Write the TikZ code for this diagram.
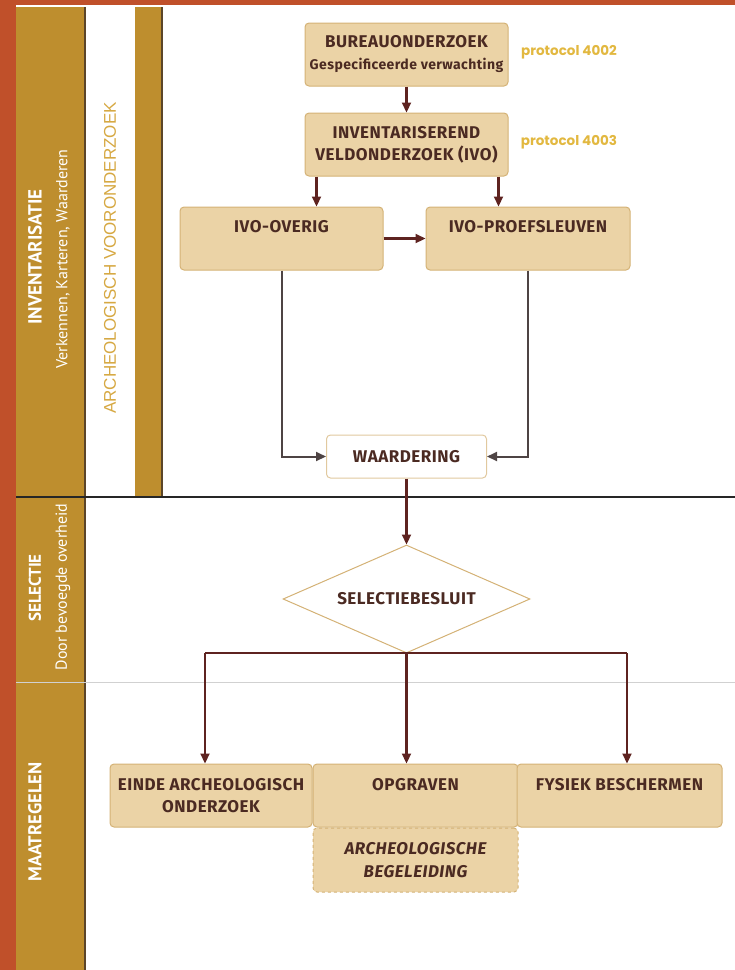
\documentclass[tikz,border=0pt]{standalone}
\usepackage{fontspec}
\setmainfont{PT Sans}
\newfontfamily\arialfont{Liberation Sans}
\newfontfamily\boxfont[LetterSpace=3]{Fira Sans}
\newfontfamily\protofont{Poppins}
\usetikzlibrary{shapes.geometric,arrows.meta,calc}
\definecolor{rust}{HTML}{C0502A}
\definecolor{gold}{HTML}{BE8E2E}
\definecolor{goldedge}{HTML}{5B4528}
\definecolor{boxfill}{HTML}{EBD3A6}
\definecolor{boxline}{HTML}{D4B276}
\definecolor{arr}{HTML}{5E2320}
\definecolor{greyline}{HTML}{4E4444}
\definecolor{txt}{HTML}{4B2A22}
\definecolor{proto}{HTML}{E2B840}
\definecolor{lightgold}{HTML}{D6A842}
\begin{document}
\begin{tikzpicture}[x=1pt,y=-1pt,
  box/.style={draw=boxline, fill=boxfill, rounded corners=4pt, line width=1pt,
    font=\boxfont\bfseries\fontsize{17}{22}\selectfont, text=txt, align=center, inner sep=0pt,
    minimum height=63pt},
  wbox/.style={box, fill=white, draw=boxline!70},
  toptext/.style={text height=11.7pt, text depth=23pt},
  arrow/.style={draw=arr, line width=2.2pt, -{Triangle[length=10pt,width=9pt]}},
  garrow/.style={draw=greyline, line width=2pt, -{Triangle[length=10pt,width=9pt]}},
  plain/.style={draw=arr, line width=2.2pt},
  side/.style={rotate=90, text=white, inner sep=0pt},
  proto/.style={text=proto, font=\protofont\bfseries\fontsize{13.5}{16}\selectfont, inner sep=0pt}
]
\useasboundingbox (0,0) rectangle (735,970);
% background bands
\fill[rust] (0,0) rectangle (735,5);
\fill[rust] (0,0) rectangle (16,970);
\fill[gold] (16,7) rectangle (85,970);
\draw[goldedge, line width=1.5pt] (85,7) -- (85,970);
\fill[gold] (135,7) rectangle (162,497);
\draw[goldedge, line width=1.2pt] (162,7) -- (162,497);
\draw[black!85, line width=1.2pt] (16,497) -- (735,497);
\draw[black!18, line width=1pt] (16,682) -- (735,682);

% side labels
\node[side, font=\bfseries\fontsize{19}{21}\selectfont] (inv-lbl) at (35,257) {INVENTARISATIE};
\node[side, font=\fontsize{16}{18}\selectfont] (inv-sub) at (63,259) {Verkennen, Karteren, Waarderen};
\node[side, text=lightgold, font=\arialfont\fontsize{17}{19}\selectfont] (avo) at (110,258) {ARCHEOLOGISCH VOORONDERZOEK};
\node[side, font=\bfseries\fontsize{17}{19}\selectfont] (sel-lbl) at (35,588) {SELECTIE};
\node[side, font=\fontsize{16}{18}\selectfont] (sel-sub) at (63,587) {Door bevoegde overheid};
\node[side, font=\bfseries\fontsize{18.5}{20}\selectfont] (maat-lbl) at (35,822) {MAATREGELEN};

% boxes
\node[box, minimum width=203pt] (bur) at (406.5,54.5) {BUREAUONDERZOEK\\{\fontsize{14}{18}\selectfont Gespecificeerde verwachting}};
\node[proto] (p4002) at (569,52) {protocol 4002};
\node[box, minimum width=203pt] (inv) at (406.5,144.5) {INVENTARISEREND\\VELDONDERZOEK (IVO)};
\node[proto] (p4003) at (569,142) {protocol 4003};
\node[box, toptext, minimum width=203pt] (ovr) at (281.5,238.5) {IVO-OVERIG};
\node[box, toptext, minimum width=204pt] (proef) at (528,238.5) {IVO-PROEFSLEUVEN};
\node[wbox, minimum width=160pt, minimum height=43pt] (waard) at (406.5,456.5) {WAARDERING};
\node[diamond, shape aspect=2.287, draw=boxline, fill=white, line width=1pt, minimum width=247pt, minimum height=108pt,
  inner sep=0pt, font=\boxfont\bfseries\fontsize{17}{19}\selectfont, text=txt] (dia) at (406.5,599) {SELECTIEBESLUIT};
\node[box, minimum width=202pt] (einde) at (211,795.5) {EINDE ARCHEOLOGISCH\\ONDERZOEK};
\node[box, toptext, text depth=21pt, minimum width=205pt] (opg) at (415.5,795.5) {OPGRAVEN};
\node[box, toptext, text depth=21pt, minimum width=205pt] (fys) at (619.5,795.5) {FYSIEK BESCHERMEN};
\node[box, dashed, minimum width=205pt, minimum height=64pt, font=\boxfont\bfseries\itshape\fontsize{17}{23}\selectfont] (beg) at (415.5,860) {ARCHEOLOGISCHE\\BEGELEIDING};

% connectors
\draw[arrow] (bur.south) -- (inv.north);
\draw[arrow] ([xshift=12pt]inv.south west) -- ([xshift=12pt]inv.south west |- ovr.north);
\draw[arrow] ([xshift=-10pt]inv.south east) -- ([xshift=-10pt]inv.south east |- proef.north);
\draw[arrow] (ovr.east) -- (proef.west);
\draw[garrow] (ovr.south) |- (waard.west);
\draw[garrow] (proef.south) |- (waard.east);
\draw[arrow] (waard.south) -- (dia.north);
\coordinate (jl) at (205,653);
\coordinate (jr) at (627,653);
\draw[plain] (jl) -- (jr);
\draw[arrow] (dia.south) -- (dia.south |- opg.north);
\draw[arrow] (jl) -- (jl |- einde.north);
\draw[arrow] (jr) -- (jr |- fys.north);
\end{tikzpicture}
\end{document}
